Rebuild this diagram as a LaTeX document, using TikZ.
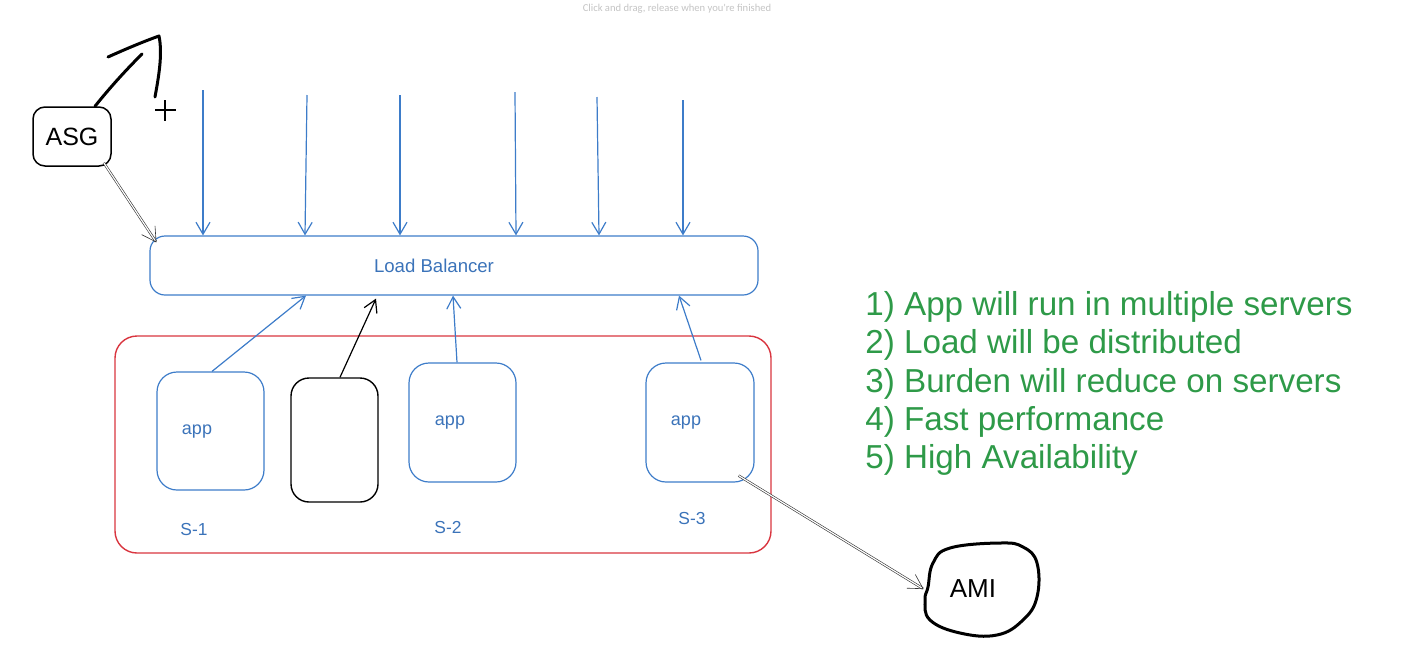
\documentclass[tikz,border=0pt]{standalone}
\usepackage{fontspec}
\setmainfont{Liberation Sans}
\newfontfamily\uifont{Carlito}
\usetikzlibrary{arrows.meta,shapes.geometric}
\definecolor{lbblue}{HTML}{3D7CC9}
\definecolor{txtblue}{HTML}{3B73B9}
\definecolor{redbox}{HTML}{D9353F}
\definecolor{grn}{HTML}{2E9A48}
\definecolor{hint}{HTML}{C4C4C4}
\tikzset{
  bluebox/.style={draw=lbblue, line width=0.6pt, rounded corners=10pt},
  bluearrow/.style={draw=lbblue, line width=0.6pt, -{Straight Barb[length=6pt,width=7pt]}},
  blackarrow/.style={draw=black, line width=0.6pt, -{Straight Barb[length=6pt,width=7pt]}},
  dblarrow/.style={draw=black!80, line width=0.3pt, double=white, double distance=0.6pt, -{Straight Barb[length=7pt,width=8pt]}},
  bluetxt/.style={text=txtblue, inner sep=0pt},
  pointtxt/.style={text=grn, font=\fontsize{16.6}{19}\selectfont, anchor=west, inner sep=0pt},
}
\begin{document}
\begin{tikzpicture}[x=0.5pt,y=-0.5pt]
\useasboundingbox (0,0) rectangle (1414,644);
% hint text
\node[text=hint, font=\uifont\fontsize{5.3}{6}\selectfont, inner sep=0pt] (hint) at (677,9) {Click and drag, release when you're finished};

% ASG
\node[draw=black, line width=0.75pt, rounded corners=6pt, minimum width=39pt, minimum height=29.5pt, font=\fontsize{12.5}{14}\selectfont] (asg) at (72,136.5) {ASG};
% big hand-drawn arrow out of ASG
\draw[line width=1.5pt, line cap=round] (asg.north -| 95,0) .. controls (112,85) and (128,68) .. (142,54);
\draw[line width=1.5pt, line cap=round, line join=round] (108,57) .. controls (128,48) and (145,41) .. (159,36) .. controls (163,55) and (158,80) .. (155,97);
% plus sign
\draw[line width=0.6pt] (155,110) -- (176,110) (165,100) -- (165,121);

% Load balancer
\node[bluebox, rounded corners=7.5pt, minimum width=304pt, minimum height=29.5pt, text=txtblue, font=\fontsize{9.3}{11}\selectfont] (lb) at (454,265.5) {\hspace*{-20pt}Load Balancer};

% incoming arrows
\coordinate (t1) at (203,90);
\coordinate (t2) at (307,95);
\coordinate (t3) at (400,95);
\coordinate (t4) at (515,92);
\coordinate (t5) at (597,97);
\coordinate (t6) at (683,100);
\foreach \t/\x in {t1/203,t2/305,t3/400,t4/516,t5/599,t6/683}
  \draw[bluearrow] (\t) -- (lb.north -| \x,0);

% ASG -> LB
\draw[dblarrow] ([xshift=-4pt,yshift=2pt]asg.south east) -- ([xshift=3.5pt,yshift=-3.5pt]lb.north west);

% red group box
\node[draw=redbox, line width=0.7pt, rounded corners=11pt, minimum width=328pt, minimum height=108.5pt] (grp) at (443,444.5) {};

% servers
\node[bluebox, minimum width=53.5pt, minimum height=59pt] (s1) at (210.5,431) {};
\node[draw=black, line width=0.7pt, rounded corners=9pt, minimum width=43.5pt, minimum height=62pt] (blk) at (334.5,440) {};
\node[bluebox, minimum width=53.5pt, minimum height=59.5pt] (s2) at (462.5,422.5) {};
\node[bluebox, minimum width=54pt, minimum height=59.5pt] (s3) at (700,422.5) {};

\node[bluetxt, font=\fontsize{9}{11}\selectfont] (a1) at (197,432) {app};
\node[bluetxt, font=\fontsize{9}{11}\selectfont] (a2) at (450,423) {app};
\node[bluetxt, font=\fontsize{9}{11}\selectfont] (a3) at (686,423) {app};
\node[bluetxt, font=\fontsize{8.7}{10}\selectfont] (l1) at (194,529) {S-1};
\node[bluetxt, font=\fontsize{8.7}{10}\selectfont] (l2) at (448,527) {S-2};
\node[bluetxt, font=\fontsize{8.7}{10}\selectfont] (l3) at (692,518) {S-3};

% server -> LB
\draw[bluearrow] (s1.north -| 212,0) -- (lb.south -| 306,0);
\draw[blackarrow] (blk.north -| 340,0) -- ([yshift=-1.5pt]lb.south -| 376,0);
\draw[bluearrow] (s2.north -| 457,0) -- (lb.south -| 453,0);
\draw[bluearrow] ([yshift=1pt]s3.north -| 701,0) -- (lb.south -| 679,0);

% AMI
\node[ellipse, minimum width=56pt, minimum height=46pt, inner sep=0pt, font=\fontsize{13}{15}\selectfont] (ami) at (982,589) {\hspace*{-9pt}AMI};
\draw[line width=1.5pt] plot[smooth cycle, tension=0.7] coordinates {(933,563) (950,548) (1000,543) (1023,547) (1037,563) (1037,597) (1023,620) (997,635) (960,633) (930,620) (925,600) (928,587)};
\draw[dblarrow] ([xshift=-8pt,yshift=3.5pt]s3.south east) -- ([xshift=-1pt]ami.west);

% benefits
\node[pointtxt] (p1) at (865,307) {1) App will run in multiple servers};
\node[pointtxt] (p2) at (865,345) {2) Load will be distributed};
\node[pointtxt] (p3) at (865,384) {3) Burden will reduce on servers};
\node[pointtxt] (p4) at (865,422) {4) Fast performance};
\node[pointtxt] (p5) at (865,460) {5) High Availability};
\end{tikzpicture}
\end{document}
